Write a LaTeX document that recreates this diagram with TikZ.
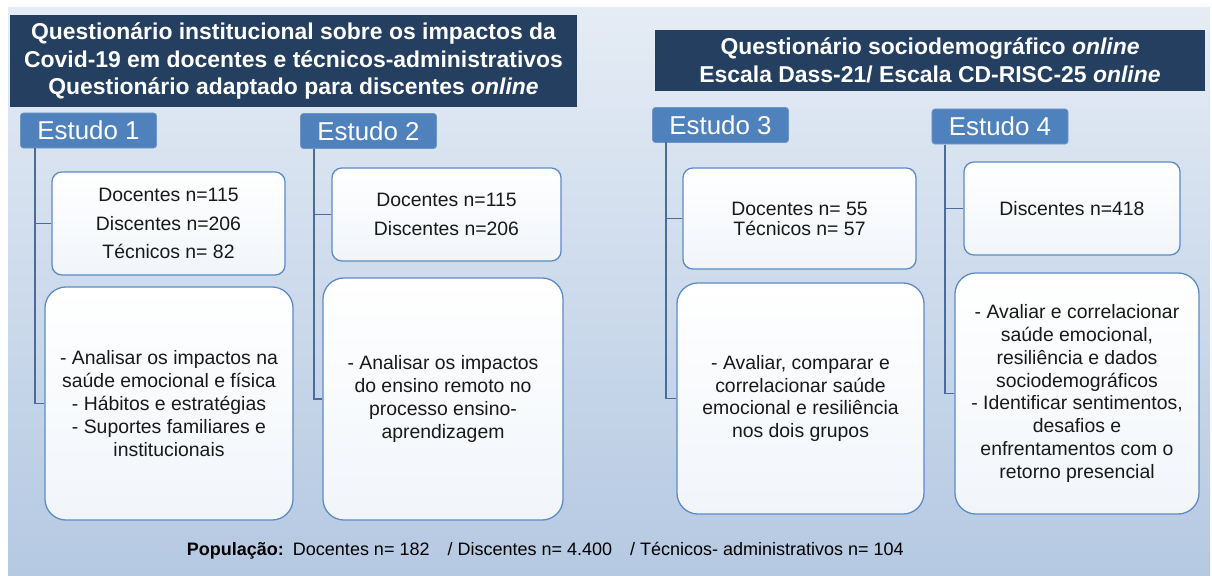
\documentclass[tikz,border=0pt]{standalone}
\usepackage{fontspec}
\setmainfont{Liberation Sans}
\usetikzlibrary{positioning}
\definecolor{navy}{HTML}{243F60}
\definecolor{tabblue}{HTML}{4F81BD}
\definecolor{tabline}{HTML}{7096C8}
\definecolor{boxline}{HTML}{5A8AC6}
\definecolor{boxfill}{HTML}{F1F5FA}
\definecolor{treeline}{HTML}{4A6B9C}
\definecolor{bgtop}{HTML}{E5ECF5}
\definecolor{bgmid}{HTML}{C6D5E9}
\definecolor{bgbot}{HTML}{B5C9E2}

\begin{document}
\begin{tikzpicture}[x=0.025cm, y=-0.025cm,
  titulo/.style={fill=navy, text=white, font=\fontsize{16.3}{19.5}\selectfont\bfseries, align=center, inner sep=0pt},
  estudo/.style={fill=tabblue, draw=tabline, rounded corners=2pt, text=white, font=\fontsize{18.4}{20}\selectfont, minimum height=0.875cm, minimum width=3.4cm, inner sep=0pt},
  caixa/.style={draw=boxline, line width=0.9pt, top color=white, bottom color=boxfill, rounded corners=7pt, align=center, font=\fontsize{13.8}{16.3}\selectfont, text=black!90, inner sep=0pt},
  grande/.style={caixa, rounded corners=15pt},
  ramo/.style={draw=treeline, line width=1pt}]
\useasboundingbox (0,0) rectangle (1212,576);
\fill[top color=bgtop, middle color=bgmid, bottom color=bgbot] (8,8) rectangle (1210,576);

\node[titulo, minimum width=14.175cm, minimum height=2.3cm] (q1) at (293.5,61)
  {Questionário institucional sobre os impactos da\\Covid-19 em docentes e técnicos-administrativos\\Questionário adaptado para discentes \textit{online}};
\node[titulo, minimum width=13.75cm, minimum height=1.525cm] (q2) at (930,60.5)
  {Questionário sociodemográfico \textit{online}\\Escala Dass-21/ Escala CD-RISC-25 \textit{online}};

\foreach \i/\x/\y in {1/88.5/130.5, 2/368.5/131, 3/720.5/125, 4/1000/126.5}
  \node[estudo] (e\i) at (\x,\y) {Estudo \i};

\node[caixa, minimum width=5.825cm, minimum height=2.575cm, font=\fontsize{13.8}{20.5}\selectfont] (n1) at (168.5,223.5)
  {Docentes n=115\\Discentes n=206\\Técnicos n= 82};
\node[caixa, minimum width=5.725cm, minimum height=2.325cm, font=\fontsize{13.8}{20.5}\selectfont] (n2) at (446.5,214.5)
  {Docentes n=115\\Discentes n=206};
\node[caixa, minimum width=5.825cm, minimum height=2.525cm, font=\fontsize{13.8}{14.2}\selectfont] (n3) at (799.5,218.5)
  {Docentes n= 55\\Técnicos n= 57};
\node[caixa, minimum width=5.4cm, minimum height=2.325cm] (n4) at (1072,208.5)
  {Discentes n=418};

\node[grande, minimum width=6.2cm, minimum height=5.825cm] (o1) at (169,403.5)
  {- Analisar os impactos na\\saúde emocional e física\\- Hábitos e estratégias\\- Suportes familiares e\\institucionais};
\node[grande, minimum width=6cm, minimum height=6.05cm] (o2) at (443,399)
  {- Analisar os impactos\\do ensino remoto no\\processo ensino-\\aprendizagem};
\node[grande, minimum width=6.175cm, minimum height=5.775cm] (o3) at (800.5,398.5)
  {- Avaliar, comparar e\\correlacionar saúde\\emocional e resiliência\\nos dois grupos};
\node[grande, minimum width=6.1cm, minimum height=6.025cm] (o4) at (1077,393.5)
  {- Avaliar e correlacionar\\saúde emocional,\\resiliência e dados\\sociodemográficos\\- Identificar sentimentos,\\desafios e\\enfrentamentos com o\\retorno presencial};

\foreach \i/\x/\y in {1/35/148, 2/314/149, 3/666/142, 4/945/145}
{
  \coordinate (r\i) at (\x,\y);
  \draw[ramo] (r\i) |- (n\i.west);
  \draw[ramo] (r\i) |- (o\i.west);
}

\node[anchor=west, font=\fontsize{12.8}{15}\selectfont] (pop) at (182,551)
  {\textbf{População:}\hspace{0.5em}Docentes n= 182\hspace{1em}/ Discentes n= 4.400\hspace{1em}/ Técnicos- administrativos n= 104};
\end{tikzpicture}
\end{document}
